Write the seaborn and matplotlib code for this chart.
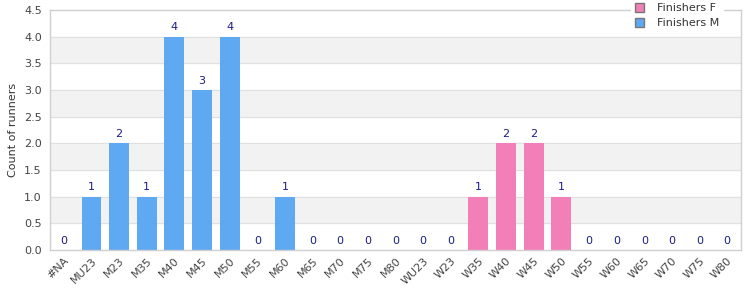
import pandas as pd
import matplotlib
matplotlib.use('Agg')
import matplotlib.pyplot as plt
import seaborn as sns
from matplotlib.patches import Patch

# data
categories = ['#NA', 'MU23', 'M23', 'M35', 'M40', 'M45', 'M50', 'M55', 'M60', 'M65',
              'M70', 'M75', 'M80', 'WU23', 'W23', 'W35', 'W40', 'W45', 'W50', 'W55',
              'W60', 'W65', 'W70', 'W75', 'W80']
counts = [0, 1, 2, 1, 4, 3, 4, 0, 1, 0,
          0, 0, 0, 0, 0, 1, 2, 2, 1, 0,
          0, 0, 0, 0, 0]
series = ['Finishers F' if c.startswith('W') else 'Finishers M' for c in categories]

df = pd.DataFrame({'Category': categories, 'Count': counts, 'Series': series})
colors = {'Finishers F': '#f27fb8', 'Finishers M': '#5fa8f2'}

sns.set_style('white')
plt.rcParams['font.family'] = ['DejaVu Sans']

fig = plt.figure(figsize=(7.5, 3), dpi=100)
ax = fig.add_axes([0.0667, 0.1667, 0.9213, 0.8])

# alternating grey bands
for lo in [0.5, 1.5, 2.5, 3.5]:
    ax.axhspan(lo, lo + 0.5, color='#f2f2f2', zorder=0)
for y in [0.5, 1, 1.5, 2, 2.5, 3, 3.5, 4]:
    ax.axhline(y, color='#e0e0e0', lw=0.8, zorder=0.5)

sns.barplot(data=df, x='Category', y='Count', hue='Series', order=categories,
            hue_order=['Finishers F', 'Finishers M'], palette=colors,
            dodge=False, width=0.72, saturation=1, ax=ax, legend=False, zorder=2,
            linewidth=0, edgecolor='none')

for cont in ax.containers:
    ax.bar_label(cont, fmt='%d', padding=3, fontsize=8, color='#1a1a8c')

ax.set_ylim(0, 4.5)
ax.set_yticks([0, 0.5, 1, 1.5, 2, 2.5, 3, 3.5, 4, 4.5])
ax.set_yticklabels(['0.0', '0.5', '1.0', '1.5', '2.0', '2.5', '3.0', '3.5', '4.0', '4.5'])
ax.set_xlim(-0.5, len(categories) - 0.5)
ax.set_xlabel('')
ax.set_ylabel('Count of runners', fontsize=8, color='#333333')
ax.tick_params(axis='y', labelsize=8, colors='#444444', length=0, pad=6)
ax.tick_params(axis='x', labelsize=8, colors='#444444', length=0, pad=4)
plt.setp(ax.get_xticklabels(), rotation=45, ha='right', rotation_mode='anchor')
for s in ax.spines.values():
    s.set_color('#d0d0d0')
    s.set_linewidth(1)

handles = [Patch(facecolor=colors[k], edgecolor='#777777', label=k)
           for k in ['Finishers F', 'Finishers M']]
leg = ax.legend(handles=handles, loc='upper right', bbox_to_anchor=(0.983, 1.07),
                fontsize=8, frameon=True, handlelength=0.8, handleheight=0.8,
                handletextpad=1.2, borderpad=0.3, labelspacing=0.45,
                borderaxespad=0.6)
leg.get_frame().set_facecolor('white')
leg.get_frame().set_edgecolor('white')
leg.get_frame().set_alpha(1)
for t in leg.get_texts():
    t.set_color('#333333')

fig.savefig('out.png', dpi=100)
